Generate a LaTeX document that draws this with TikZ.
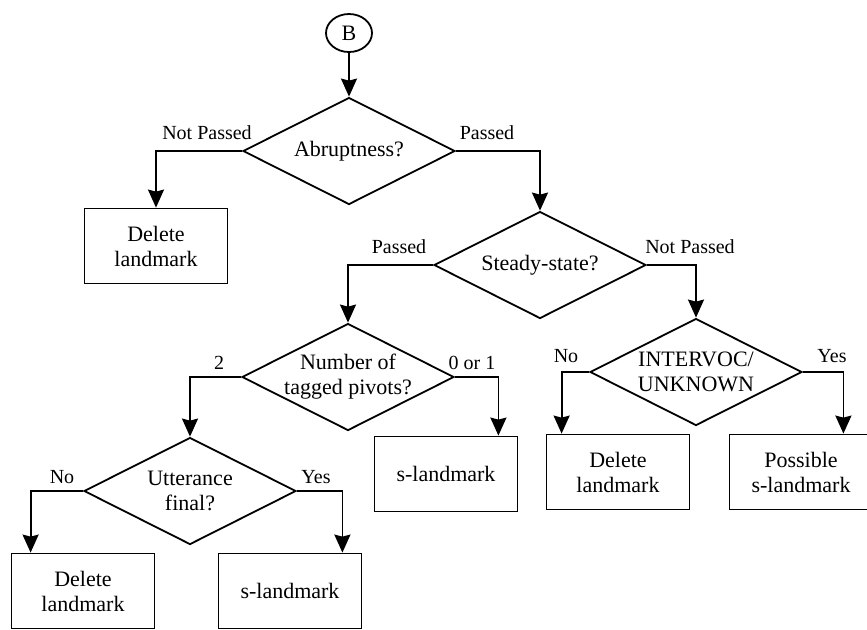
\documentclass[tikz,border=0pt]{standalone}
\usepackage{fontspec}
\setmainfont{Liberation Serif}
\usetikzlibrary{shapes.geometric,arrows.meta}

\begin{document}
\begin{tikzpicture}[x=0.5pt,y=-0.5pt,line width=0.9pt,
  >={Stealth[length=9pt,width=8pt,inset=1pt]},
  decision/.style={draw,diamond,aspect=2,inner sep=-2pt,minimum width=106pt,
    minimum height=53.5pt,align=center,font=\fontsize{11}{12.5}\selectfont},
  box/.style={draw,rectangle,minimum width=71.5pt,minimum height=37.5pt,
    align=center,font=\fontsize{11}{12.5}\selectfont},
  lbl/.style={anchor=base,inner sep=0pt,font=\fontsize{10}{12}\selectfont}]
\useasboundingbox (0,0) rectangle (867,629);

\node[draw,ellipse,minimum width=23pt,minimum height=19pt,inner sep=0pt,
  font=\fontsize{11}{12}\selectfont] (B) at (349,33) {B};

\node[decision] (abr) at (349,151) {Abruptness?};
\node[decision] (ste) at (540,265) {Steady-state?};
\node[decision] (num) at (348,377) {Number of\\tagged pivots?};
\node[decision] (intv) at (696,372) {INTERVOC/\\UNKNOWN};
\node[decision] (utt) at (190,491) {Utterance\\final?};

\node[box] (del1) at (156,246) {Delete\\landmark};
\node[box] (sl1) at (446,474) {s-landmark};
\node[box] (del2) at (618,472) {Delete\\landmark};
\node[box] (pos) at (801,472) {Possible\\s-landmark};
\node[box] (del3) at (83,591) {Delete\\landmark};
\node[box] (sl2) at (290,591) {s-landmark};

\draw[->] (B.south) -- (abr.north);
\draw[->] (abr.west) -| (del1.north);
\draw[->] (abr.east) -| (ste.north);
\draw[->] (ste.west) -| (num.north);
\draw[->] (ste.east) -| (intv.north);
\draw[->] (num.west) -| (utt.north);
\draw[->] (num.east) -| ([xshift=-10pt]sl1.north east);
\draw[->] (intv.west) -| ([xshift=8pt]del2.north west);
\draw[->] (intv.east) -| ([xshift=-15pt]pos.north east);
\draw[->] (utt.west) -| ([xshift=10pt]del3.north west);
\draw[->] (utt.east) -| ([xshift=-10pt]sl2.north east);

\node[lbl] (l1) at (207,139) {Not Passed};
\node[lbl] (l2) at (487,139) {Passed};
\node[lbl] (l3) at (399,253) {Passed};
\node[lbl] (l4) at (690,253) {Not Passed};
\node[lbl] (l5) at (219,369) {2};
\node[lbl] (l6) at (472,369) {0 or 1};
\node[lbl] (l7) at (566,362) {No};
\node[lbl] (l8) at (832,362) {Yes};
\node[lbl] (l9) at (62,483) {No};
\node[lbl] (l10) at (316,483) {Yes};
\end{tikzpicture}
\end{document}
